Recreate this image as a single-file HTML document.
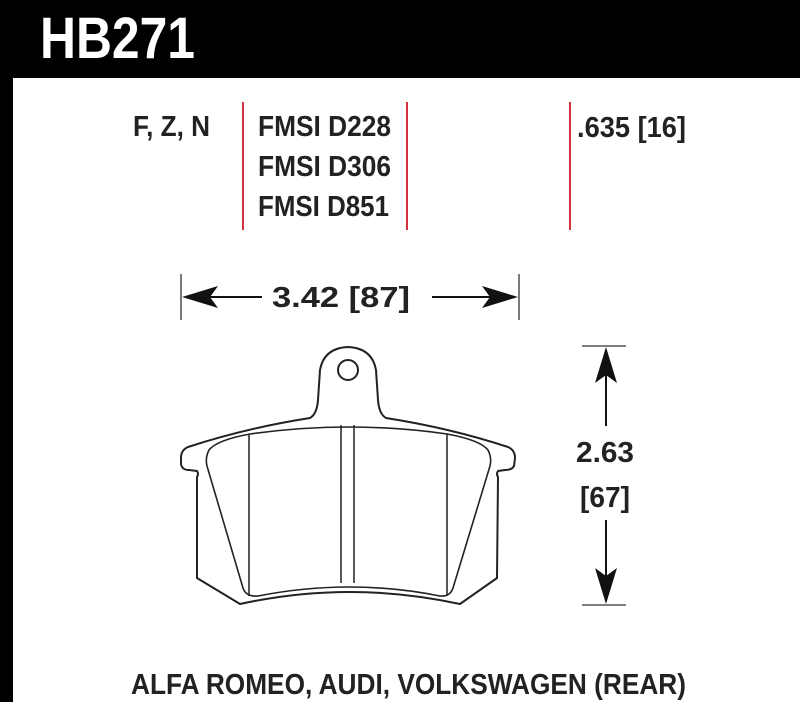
<!DOCTYPE html>
<html><head><meta charset="utf-8"><style>html,body{margin:0;padding:0;background:#fff}svg{display:block}</style></head>
<body>
<svg width="800" height="702" viewBox="0 0 800 702" xmlns="http://www.w3.org/2000/svg" font-family="Liberation Sans, sans-serif" font-weight="bold">
<rect x="0" y="0" width="800" height="78" fill="#000"/>
<rect x="0" y="78" width="13" height="624" fill="#000"/>
<text x="40" y="58" font-size="58" fill="#fff" textLength="155" lengthAdjust="spacingAndGlyphs">HB271</text>
<g fill="#222" font-size="29">
<text x="133" y="136" textLength="77" lengthAdjust="spacingAndGlyphs">F, Z, N</text>
<text x="258" y="136" textLength="133" lengthAdjust="spacingAndGlyphs">FMSI D228</text>
<text x="258" y="176" textLength="133" lengthAdjust="spacingAndGlyphs">FMSI D306</text>
<text x="258" y="216" textLength="131" lengthAdjust="spacingAndGlyphs">FMSI D851</text>
<text x="577" y="137" textLength="109" lengthAdjust="spacingAndGlyphs">.635 [16]</text>
<text x="272" y="307" textLength="138" lengthAdjust="spacingAndGlyphs">3.42 [87]</text>
<text x="576" y="462" textLength="58" lengthAdjust="spacingAndGlyphs">2.63</text>
<text x="580" y="507" textLength="50" lengthAdjust="spacingAndGlyphs">[67]</text>
<text x="131" y="694" textLength="555" lengthAdjust="spacingAndGlyphs">ALFA ROMEO, AUDI, VOLKSWAGEN (REAR)</text>
</g>
<g stroke="#d0333f" stroke-width="2">
<line x1="243" y1="102" x2="243" y2="230"/>
<line x1="407" y1="102" x2="407" y2="230"/>
<line x1="570" y1="102" x2="570" y2="230"/>
</g>
<g stroke="#333" stroke-width="1.3">
<line x1="181" y1="274" x2="181" y2="320"/>
<line x1="519" y1="274" x2="519" y2="320"/>
<line x1="582" y1="346" x2="626" y2="346"/>
<line x1="582" y1="605" x2="626" y2="605"/>
</g>
<g stroke="#111" stroke-width="2">
<line x1="190" y1="297" x2="262" y2="297"/>
<line x1="432" y1="297" x2="510" y2="297"/>
<line x1="606" y1="356" x2="606" y2="426"/>
<line x1="606" y1="520" x2="606" y2="595"/>
</g>
<g fill="#111">
<polygon points="182,297 218,286 210,297 218,308"/>
<polygon points="518,297 482,286 490,297 482,308"/>
<polygon points="606,347 595,383 606,375 617,383"/>
<polygon points="606,604 595,568 606,576 617,568"/>
</g>
<g fill="none" stroke="#222" stroke-width="2" stroke-linejoin="round">
<path d="M310,418 Q317,414 318,400 L320,370 Q324,348 348,347 Q372,348 376,370 L378,400 Q379,414 386,418 Q450,428 508,447 Q515,450 515,458 L514,466 Q512,470 505,470 L498,471 Q496,474 498,477 L497,578 L460,604 Q350,580 240,604 L197,578 L197,477 Q199,474 197,471 L189,470 Q182,470 181,464 L181,458 Q181,450 188,447 Q246,428 310,418 Z"/>
<circle cx="348" cy="370" r="10"/>
<path d="M250,434 Q350,420 447,434 Q480,440 488,450 Q492,458 490,466 L453,588 Q450,597 440,596 Q350,578 258,596 Q246,597 243,588 L207,466 Q205,458 209,450 Q217,440 250,434 Z" stroke-width="1.6"/>
</g>
<g stroke="#222" stroke-width="1.5">
<line x1="249" y1="434" x2="249" y2="596"/>
<line x1="447" y1="434" x2="447" y2="596"/>
<line x1="341" y1="425" x2="341" y2="583"/>
<line x1="354" y1="425" x2="354" y2="583"/>
</g>
</svg>
</body></html>
